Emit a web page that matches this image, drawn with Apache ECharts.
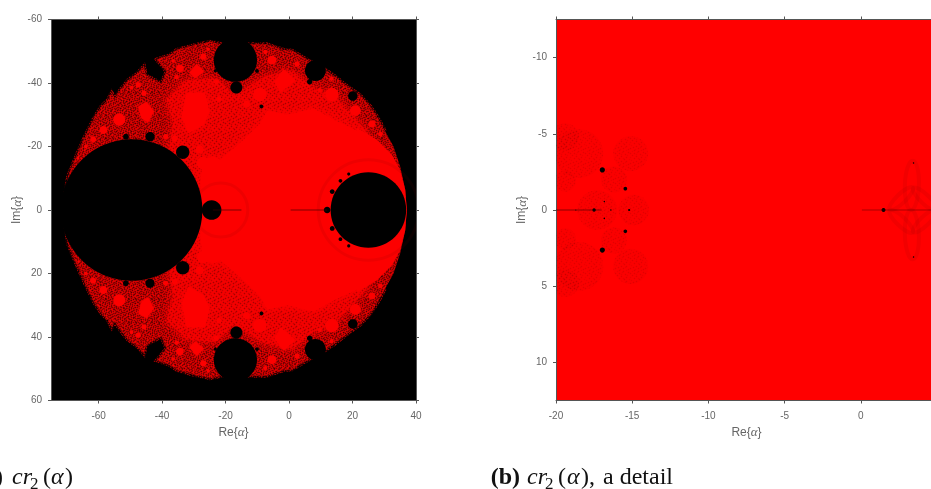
<!DOCTYPE html>
<html><head><meta charset="utf-8">
<script src="https://cdn.jsdelivr.net/npm/echarts@6/dist/echarts.min.js"></script>
<style>html,body{margin:0;padding:0;background:#fff}#c{width:931px;height:489px}</style>
</head><body><div id="c"></div>
<script>
// ---- tick labels -----
const xTicksA=[-60,-40,-20,0,20,40];
const yTicksA=[-60,-40,-20,0,20,40,60];
const xTicksB=[-20,-15,-10,-5,0,5];
const yTicksB=[-10,-5,0,5,10];

// ---- panel (a): values, upper half (Im<0); set is symmetric about Im=0 ----
const outlineA=[[-70.6,0],[-70.4,-5.3],[-69.6,-10.6],[-67.5,-15.8],[-65.9,-19.5],[-64,-23.7],[-61.2,-29.4],[-59.1,-32.6],[-57,-34.7],[-55.9,-37],[-54.9,-35.2],[-52.8,-38.3],[-50.7,-40.9],[-48,-42.8],[-45.7,-45.3],[-45.1,-42.5],[-42.3,-40.9],[-40.2,-39.9],[-38.6,-43.6],[-41.7,-47.4],[-37.5,-48.8],[-35.4,-50.4],[-31.2,-51.6],[-24.9,-53],[-20,-52],[-16.9,-52],[-11.1,-52.2],[-6.9,-52.2],[-1.7,-50.4],[0.9,-50.2],[5.7,-47.3],[10.9,-44.5],[14.1,-42.3],[18.3,-39],[22.5,-36],[25.6,-32.6],[27.7,-29.4],[30.3,-24.7],[32.9,-20],[35,-13.7],[36.6,-6.4],[37.1,0]];
const fringeEnd=38; // outline points with a speckled edge; beyond them the crescent is clean
const middleA=[[-40,0],[-38,-18],[-36.5,-27.3],[-38.6,-34.7],[-32.3,-40.9],[-22.8,-41.5],[-17.4,-36],[-8,-42],[1,-44],[8,-38],[13,-37],[20,-30],[25,-24],[27,0]];
const coreA=[[-28,0],[-27.9,-9.5],[-27,-15.8],[-23.9,-16.9],[-21.6,-15.8],[-14.3,-22.1],[-9,-27.3],[-6.9,-31.3],[-0.6,-30],[7.8,-32],[14.1,-28.4],[21.4,-25],[26,-19],[28,0]];
const crescentA=[[25,0],[21,-22],[21.4,-25.8],[27.7,-22.1],[32.4,-17.4],[35,-12.7],[36.6,-6.4],[37.1,0]];
const patchShapesA=[
 [[-32.3,-36.9],[-26.5,-36.9],[-25.1,-31],[-27,-26.8],[-31.7,-24.2],[-33.8,-29.3]],
 [[-44.9,-34.1],[-42.6,-31],[-44.4,-27.5],[-46.5,-28.9],[-47.5,-32.6]],
 [[-1.7,-44.3],[2,-40.9],[-2.7,-37],[-4.6,-40.4]],
 [[-29.1,-46],[-26.8,-43.6],[-29.6,-41.5],[-31.4,-43.2]]
];
const patchesA=[[-53.5,-28.4,1.9],[-58.5,-25.2,1.25],[-61.7,-22.3,0.95],[-64,-20,0.55],[-66.4,-16.3,0.35],[-34.4,-44.6,1.2],[-27,-48.3,1],[-25.5,-50.6,0.55],[-36.5,-46.9,0.55],[-35.4,-41.8,0.7],[-47.5,-39.4,0.85],[-49.6,-38.5,0.6],[-45.7,-36.8,0.85],[-38.9,-23.1,0.8],[-36,-22.6,0.9],[-9.2,-36.4,2.1],[-5.4,-47.2,1.4],[2.5,-46,0.85],[13.5,-36.4,2.1],[20.9,-31.3,1.7],[26.1,-27.1,1.1],[28.8,-23.9,0.75],[13.4,-41.3,0.65],[9.7,-37.8,0.65],[-13.4,-33.3,1.1],[-22.1,-34.9,0.85],[-7.5,-49.8,0.65],[-22.9,-40.4,0.8],[-27,-14.8,2],[-28.1,-19,1.3]];
const bulbsA=[[-49.6,0,22.3],[25,0,11.9],[-24.4,0,3.1],[-16.9,-47.2,6.8],[-16.6,-38.6,1.9],[-33.5,-18.2,2.1],[-43.8,-23.1,1.45],[-51.4,-23.1,0.9],[8.3,-43.9,3.3],[6.5,-40.4,0.85],[20.1,-35.9,1.5],[-8.7,-32.6,0.6],[12,0,1.05],[13.6,-5.8,0.75],[16.2,-9.2,0.6],[18.8,-11.3,0.5],[-10.1,-43.8,0.6],[-23.2,-43.8,0.5]];
const faintA=[[-21.5,0,8.5],[25,0,15.8]];
const tailsA=[[[-24,0],[-15,0]],[[0.5,0],[12,0]]];

// ---- panel (b) ----
const faintB=[[-18.5,-3.7,1.6],[-15.1,-3.7,1.15],[-16.2,-2,0.85],[-17.3,0,1.3],[-14.9,0,1],[-19.4,-4.8,0.9],[-19.4,-1.9,0.7]];
const bulbsB=[[-16.96,-2.63,0.17],[-15.45,-1.4,0.12],[-16.83,-0.55,0.05],[-17.5,0,0.11],[-16.4,0,0.05],[-15.2,0,0.07],[-18.7,0,0.04],[1.49,0,0.13],[3.46,-3.08,0.05]];
const petalsB=[[3.35,-1.62,1.62,0.46,88],[2.65,-0.75,1.05,0.3,44],[4.2,-0.72,1.05,0.3,-44]];
const tailsB=[[[-20,0],[-17,0]],[[0.07,0],[5,0]]];

// ---- axis / captions ----
const reName='Re{{g|α}}', imName='Im{{g|α}}';

// speckle tiles (fill style only)
const denseRows=[
"#..+#...#.+..##...#.+#.","..#...+#....#..+#....#.",".+...#..#.+...#....#+..","#..#....+..#.#..+#....#","..+.#+#...#....#...+#..",".#.....#+...+#...#.....","...#+...#.#....+...#.+#","+#...#.....+#.#..#.....","...+..#.#+....#....+#.#",".#.#....#..#+...#.#....","..+..#+...#...#.+....#+","#...#...+#..+.#...#+...","..#...#.....#....#...#.",".+.#+..#.#+...#.+..#...","#.....#....#.+...#....+","..#.+...#.+..#.#...+#..",".#...#+...#.....#.#...#","+..#....#...+#.+....#..","..#.+#.#...#....#.+#...","#......+..#..#+...#...#","..+#.#...#....#.#....+.",".#.....#..+#.....+.#...","...#.+...#...#+.#...#.+"];
const lightRows=[
"....#......+...","..+.....#......",".......+.....#.","#...#..........","......+...#....","..#.........+..","......#........","+..........#...","....#...+......",".........#....+",".+.............","......#....#...","...#......+....","#.......#......",".....+.......#."];
// a dot is soft: a core pixel with faint neighbours, as in the blurred raster
function tile(rows,rgb,a){
  const h=rows.length,w=rows[0].length,c=document.createElement('canvas');c.width=w;c.height=h;
  const g=c.getContext('2d');
  rows.forEach((r,y)=>[...r].forEach((ch,x)=>{ if(ch==='.')return;
    const k=ch==='#'?1:0.55;
    g.fillStyle=`rgba(${rgb},${a*k})`; g.fillRect(x,y,1,1);
    g.fillStyle=`rgba(${rgb},${a*k*0.22})`;
    [[1,0],[-1,0],[0,1],[0,-1]].forEach(d=>g.fillRect((x+d[0]+w)%w,(y+d[1]+h)%h,1,1));
  }));
  return {image:c,repeat:'repeat'};
}
const denseFill=tile(denseRows,'20,0,0',0.5);
const crossFill=tile(lightRows,'20,0,0',0.45);
const lightFill=tile(lightRows,'50,0,0',0.4);
const fringeFill=tile(denseRows,'225,0,0',0.7);

const mirrorRing=u=>u.concat(u.slice(0,-1).slice(1).reverse().map(p=>[p[0],-p[1]]));
const mirrorList=l=>l.concat(l.filter(b=>b[1]!==0).map(b=>{const c=b.slice();c[1]=-b[1];return c;}));
const polygon=(list,fill,blur)=>({type:'custom',xAxisIndex:0,yAxisIndex:0,silent:true,coordinateSystem:'cartesian2d',clip:true,
  data:list.map(p=>p[0]),
  renderItem:(p,api)=>({type:'polygon',shape:{points:list[p.dataIndex].map(q=>api.coord(q))},
    style:blur?{fill,shadowColor:fill,shadowBlur:blur}:{fill}})});
const polyline=(list,stroke,lw)=>({type:'custom',xAxisIndex:0,yAxisIndex:0,silent:true,coordinateSystem:'cartesian2d',clip:true,
  data:list.map(p=>p[0]),
  renderItem:(p,api)=>({type:'polyline',shape:{points:list[p.dataIndex].map(q=>api.coord(q))},style:{fill:'none',stroke,lineWidth:lw}})});
const discs=(list,fill,idx,opacity,stroke,lw)=>({type:'custom',xAxisIndex:idx,yAxisIndex:idx,silent:true,coordinateSystem:'cartesian2d',clip:true,
  data:list,dimensions:['x','y','r'],encode:{x:0,y:1},
  renderItem:(p,api)=>{const c=api.coord([api.value(0),api.value(1)]),s=api.size([1,1]),r=api.value(2);
    return {type:'ellipse',shape:{cx:c[0],cy:c[1],rx:r*s[0],ry:r*s[1]},
      style:{fill:stroke?'none':fill,stroke:stroke||'none',lineWidth:lw||0,opacity:opacity==null?1:opacity}};}});
const tail=(pts,idx,color,w)=>({type:'line',xAxisIndex:idx,yAxisIndex:idx,silent:true,data:pts,symbol:'none',lineStyle:{color,width:w}});
const petals=(list,idx)=>({type:'custom',xAxisIndex:idx,yAxisIndex:idx,silent:true,clip:true,coordinateSystem:'cartesian2d',
  data:list,dimensions:['x','y','a','b','t'],encode:{x:0,y:1},
  renderItem:(p,api)=>{const c=api.coord([api.value(0),api.value(1)]),s=api.size([1,1]);
    return {type:'ellipse',x:c[0],y:c[1],rotation:api.value(4)*Math.PI/180,shape:{cx:0,cy:0,rx:api.value(2)*s[0],ry:api.value(3)*s[1]},
      style:{fill:'none',stroke:'rgba(110,0,0,.09)',lineWidth:4}};}});

const axisCol='#555',txt='#666';
const labelStyle={color:txt,fontFamily:'Liberation Sans',fontSize:10};
const nameStyle={color:txt,fontFamily:'Liberation Sans',fontSize:12,rich:{g:{color:txt,fontFamily:'Liberation Serif',fontStyle:'italic',fontSize:13}}};
function mkX(g,min,max,ticks,pos,main,name){return {type:'value',gridIndex:g,min,max,position:pos,scale:true,splitLine:{show:false},
  axisLine:{show:true,onZero:false,lineStyle:{color:axisCol,width:1}},
  axisTick:{show:true,length:3,inside:false,customValues:ticks,lineStyle:{color:axisCol}},
  axisLabel:main?Object.assign({show:true,margin:11,customValues:ticks,showMinLabel:true,showMaxLabel:true,formatter:v=>String(v)},labelStyle):{show:false},
  name:main?name:'',nameLocation:'middle',nameGap:26,nameTextStyle:nameStyle};}
function mkY(g,min,max,ticks,pos,main,name,gap){return {type:'value',gridIndex:g,min,max,position:pos,inverse:true,scale:true,splitLine:{show:false},
  axisLine:{show:true,onZero:false,lineStyle:{color:axisCol,width:1}},
  axisTick:{show:true,length:3,inside:false,customValues:ticks,lineStyle:{color:axisCol}},
  axisLabel:main?Object.assign({show:true,margin:9,customValues:ticks,formatter:v=>String(v)},labelStyle):{show:false},
  name:main?name:'',nameLocation:'middle',nameGap:gap,nameRotate:90,nameTextStyle:nameStyle};}

const serif='Liberation Serif';
const cap=(x,text,o)=>({type:'text',x,y:(o&&o.y)||490,silent:true,style:{text,fill:'#111',font:((o&&o.font)||('24px "'+serif+'"')),verticalAlign:'bottom',align:(o&&o.align)||'left'}});
const it='italic 24px "'+serif+'"', sub='17px "'+serif+'"', bold='bold 24px "'+serif+'"';

const fringeUp=outlineA.slice(0,fringeEnd), fringeDown=fringeUp.map(p=>[p[0],-p[1]]);

const chart=echarts.init(document.getElementById('c'),null,{renderer:'canvas'});
chart.setOption({
 animation:false,backgroundColor:'#fff',
 grid:[
  {left:51,top:19.5,width:365,height:381,show:true,backgroundColor:'#000',borderWidth:0,outerBoundsMode:'none',containLabel:false},
  {left:556,top:19.5,width:381,height:381,show:true,backgroundColor:'#ff0000',borderWidth:0,outerBoundsMode:'none',containLabel:false}
 ],
 xAxis:[mkX(0,-75,40,xTicksA,'bottom',true,reName),mkX(1,-20,5,xTicksB,'bottom',true,reName),
        mkX(0,-75,40,xTicksA,'top',false),mkX(1,-20,5,xTicksB,'top',false)],
 yAxis:[mkY(0,-60,60,yTicksA,'left',true,imName,27),mkY(1,-12.5,12.5,yTicksB,'left',true,imName,27),
        mkY(0,-60,60,yTicksA,'right',false),mkY(1,-12.5,12.5,yTicksB,'right',false)],
 graphic:[
  cap(3,'(a)',{font:bold,align:'right'}),cap(12,'cr',{font:it}),cap(30,'2',{font:sub,y:493}),cap(43,'(',{}),cap(51,'α',{font:it}),cap(65,')',{}),
  cap(520,'(b)',{font:bold,align:'right'}),cap(527,'cr',{font:it}),cap(545,'2',{font:sub,y:493}),cap(558,'(',{}),cap(567,'α',{font:it}),cap(581,'),',{}),cap(603,'a detail',{})
 ],
 series:[
  polyline([fringeUp,fringeDown],fringeFill,4),
  polygon([mirrorRing(outlineA)],'#f40000'),
  polygon([mirrorRing(outlineA)],denseFill),
  polygon([mirrorRing(outlineA)],crossFill),
  polygon([mirrorRing(middleA)],'#f40000',10),
  polygon([mirrorRing(middleA)],lightFill),
  polygon([mirrorRing(coreA)],'#fc0000',10),
  polygon([mirrorRing(crescentA)],'#fc0000'),
  discs(faintA,null,0,1,'rgba(120,0,0,.1)',3),
  polygon(patchShapesA.concat(patchShapesA.map(s=>s.map(p=>[p[0],-p[1]]))),'#fc0000',3),
  discs(mirrorList(patchesA),'#fc0000',0),
  tail(tailsA[0],0,'rgba(60,0,0,.65)',1),
  tail(tailsA[1],0,'rgba(60,0,0,.65)',1),
  discs(mirrorList(bulbsA),'#000',0),
  discs(mirrorList(faintB),lightFill,1,0.3),
  discs(mirrorList(faintB),'rgba(120,0,0,.035)',1),
  petals(petalsB.concat(petalsB.map(b=>[b[0],-b[1],b[2],b[3],-b[4]])),1),
  tail(tailsB[0],1,'rgba(60,0,0,.6)',1),
  tail(tailsB[1],1,'rgba(90,0,0,.5)',1),
  discs(mirrorList(bulbsB),'#000',1)
 ]
});
</script></body></html>
